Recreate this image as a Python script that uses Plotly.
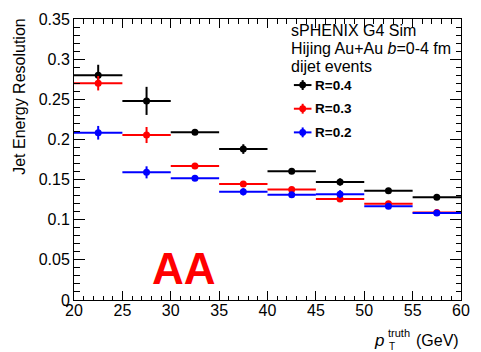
import plotly.graph_objects as go

# ---- data ----
bin_centers = [22.5, 27.5, 32.5, 37.5, 42.5, 47.5, 52.5, 57.5]
bin_halfwidth = [2.5] * 8

r04 = [0.280, 0.248, 0.209, 0.188, 0.1605, 0.147, 0.136, 0.128]
r04_err = [0.013, 0.0175, 0.003, 0.006, 0.0025, 0.0045, 0.002, 0.002]
r03 = [0.270, 0.2055, 0.167, 0.1445, 0.1375, 0.1257, 0.1200, 0.1090]
r03_err = [0.009, 0.010, 0.002, 0.0035, 0.0025, 0.003, 0.002, 0.002]
r02 = [0.2083, 0.159, 0.1515, 0.1347, 0.131, 0.1318, 0.1167, 0.1085]
r02_err = [0.0085, 0.0075, 0.002, 0.0045, 0.002, 0.005, 0.002, 0.002]

x_ticks = [20, 25, 30, 35, 40, 45, 50, 55, 60]
y_ticks = [0, 0.05, 0.1, 0.15, 0.2, 0.25, 0.3, 0.35]
y_ticklabels = ["0", "0.05", "0.1", "0.15", "0.2", "0.25", "0.3", "0.35"]

series = [
    ("R=0.4", r04, r04_err, "#000000"),
    ("R=0.3", r03, r03_err, "#ff0000"),
    ("R=0.2", r02, r02_err, "#0000ff"),
]

W, H = 481, 352
L, R, T, B = 74, 11, 15, 52
PW, PH = W - L - R, H - T - B


def px(xp):
    return (xp - L) / PW


def py(yp):
    return (H - B - yp) / PH


FONT = "Liberation Sans, Arial, Helvetica, sans-serif"

fig = go.Figure()
for name, vals, errs, col in series:
    fig.add_trace(go.Scatter(
        x=bin_centers, y=vals, mode="markers", name=name,
        marker=dict(color=col, size=7),
        error_x=dict(type="data", array=bin_halfwidth, color=col, thickness=2, width=0),
        error_y=dict(type="data", array=errs, color=col, thickness=2, width=0),
        showlegend=False, hoverinfo="skip",
    ))

shapes = []
annotations = []

# legend-like block
text_lines = [("sPHENIX G4 Sim", 27), ("Hijing Au+Au <i>b</i>=0-4 fm", 45), ("dijet events", 63)]
for txt, yy in text_lines:
    annotations.append(dict(x=px(294), y=py(yy), xref="paper", yref="paper", text=txt,
                            showarrow=False, xanchor="left", yanchor="middle",
                            font=dict(family=FONT, size=16, color="black")))

leg_y = [82, 106, 130]
for (name, vals, errs, col), yy in zip(series, leg_y):
    cx = 308
    shapes.append(dict(type="line", xref="paper", yref="paper", x0=px(cx - 9), x1=px(cx + 9),
                       y0=py(yy), y1=py(yy), line=dict(color=col, width=2)))
    shapes.append(dict(type="line", xref="paper", yref="paper", x0=px(cx), x1=px(cx),
                       y0=py(yy - 5), y1=py(yy + 5), line=dict(color=col, width=2)))
    shapes.append(dict(type="circle", xref="paper", yref="paper", x0=px(cx - 3.5), x1=px(cx + 3.5),
                       y0=py(yy + 3.5), y1=py(yy - 3.5), fillcolor=col, line=dict(color=col, width=0)))
    annotations.append(dict(x=px(319), y=py(yy), xref="paper", yref="paper", text="<b>" + name + "</b>",
                            showarrow=False, xanchor="left", yanchor="middle",
                            font=dict(family=FONT, size=13.5, color="black")))

# AA label
annotations.append(dict(x=px(187), y=py(268), xref="paper", yref="paper", text="<b>AA</b>",
                        showarrow=False, xanchor="center", yanchor="middle",
                        font=dict(family="Liberation Sans Narrow, Arial Narrow, sans-serif", size=44, color="#ff0000")))

# y title (right aligned to top)
annotations.append(dict(x=px(18), y=py(12), xref="paper", yref="paper", text="Jet Energy Resolution",
                        showarrow=False, xanchor="center", yanchor="top", textangle=-90,
                        font=dict(family=FONT, size=16, color="black")))

# x title
annotations.append(dict(x=px(470), y=py(341), xref="paper", yref="paper", text="(GeV)",
                        showarrow=False, xanchor="right", yanchor="middle",
                        font=dict(family=FONT, size=16, color="black")))
annotations.append(dict(x=px(393), y=py(341), xref="paper", yref="paper", text="<i>p</i>",
                        showarrow=False, xanchor="right", yanchor="middle",
                        font=dict(family=FONT, size=17, color="black")))
annotations.append(dict(x=px(393), y=py(333), xref="paper", yref="paper", text="truth",
                        showarrow=False, xanchor="left", yanchor="middle",
                        font=dict(family=FONT, size=11, color="black")))
annotations.append(dict(x=px(394), y=py(347), xref="paper", yref="paper", text="T",
                        showarrow=False, xanchor="left", yanchor="middle",
                        font=dict(family=FONT, size=10, color="black")))

axis_common = dict(showline=True, linecolor="black", linewidth=1, mirror="ticks",
                   ticks="inside", tickcolor="black", showgrid=False, zeroline=False,
                   ticklabeloverflow="allow",
                   tickfont=dict(family=FONT, size=16, color="black"))

fig.update_layout(
    width=W, height=H,
    margin=dict(l=L, r=R, t=T, b=B, pad=0),
    paper_bgcolor="white", plot_bgcolor="white",
    showlegend=False, hovermode=False,
    shapes=shapes, annotations=annotations,
    xaxis=dict(range=[20, 60], tickvals=x_ticks, ticklen=9, ticklabelstandoff=-4,
               minor=dict(ticks="inside", dtick=1, tick0=20, ticklen=4.5, tickcolor="black", showgrid=False),
               **axis_common),
    yaxis=dict(range=[0, 0.35], tickvals=y_ticks, ticktext=y_ticklabels, ticklen=11,
               minor=dict(ticks="inside", dtick=0.01, tick0=0, ticklen=5.5, tickcolor="black", showgrid=False),
               **axis_common),
)

fig.write_html("out.html", config={"displayModeBar": False, "staticPlot": True},
               post_script="document.body.style.margin='0';document.body.style.overflow='hidden';")
